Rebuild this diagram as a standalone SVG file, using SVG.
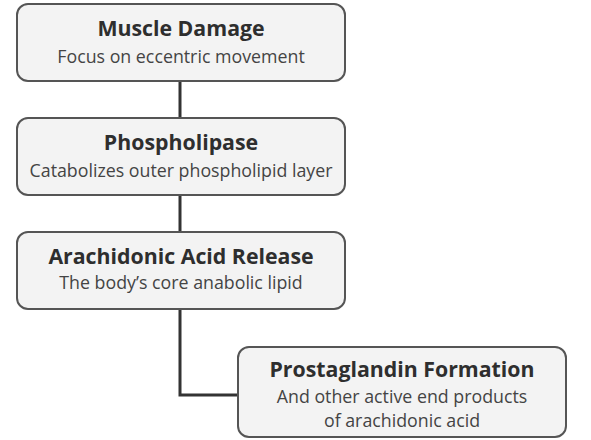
<svg xmlns="http://www.w3.org/2000/svg" width="591" height="440" viewBox="0 0 591 440">
<style>
.box{fill:#f3f3f3;stroke:#555;stroke-width:2}
.t{font-family:"Open Sans","Noto Sans",sans-serif;font-weight:bold;font-size:21.3px;fill:#2e2e2e;text-anchor:middle}
.s{font-family:"Open Sans","Noto Sans",sans-serif;font-size:17.8px;fill:#444;text-anchor:middle}
.c{fill:none;stroke:#333;stroke-width:3}
</style>
<rect width="591" height="440" fill="#fff"/>
<g id="connectors">
<line class="c" x1="180" y1="81" x2="180" y2="118"/>
<line class="c" x1="180" y1="195" x2="180" y2="232"/>
<polyline class="c" points="180,309 180,395 238,395"/>
</g>
<g id="muscle-damage">
<rect class="box" x="17" y="4" width="328" height="77" rx="11"/>
<text class="t" x="181" y="36">Muscle Damage</text>
<text class="s" x="181" y="63">Focus on eccentric movement</text>
</g>
<g id="phospholipase">
<rect class="box" x="17" y="118" width="328" height="77" rx="11"/>
<text class="t" x="181" y="150">Phospholipase</text>
<text class="s" x="181" y="177">Catabolizes outer phospholipid layer</text>
</g>
<g id="arachidonic">
<rect class="box" x="17" y="232" width="328" height="77" rx="11"/>
<text class="t" x="181" y="264">Arachidonic Acid Release</text>
<text class="s" x="181" y="289">The body’s core anabolic lipid</text>
</g>
<g id="prostaglandin">
<rect class="box" x="238" y="347" width="328" height="90" rx="11"/>
<text class="t" x="402" y="377">Prostaglandin Formation</text>
<text class="s" x="402" y="403">And other active end products</text>
<text class="s" x="402" y="427">of arachidonic acid</text>
</g>
</svg>
